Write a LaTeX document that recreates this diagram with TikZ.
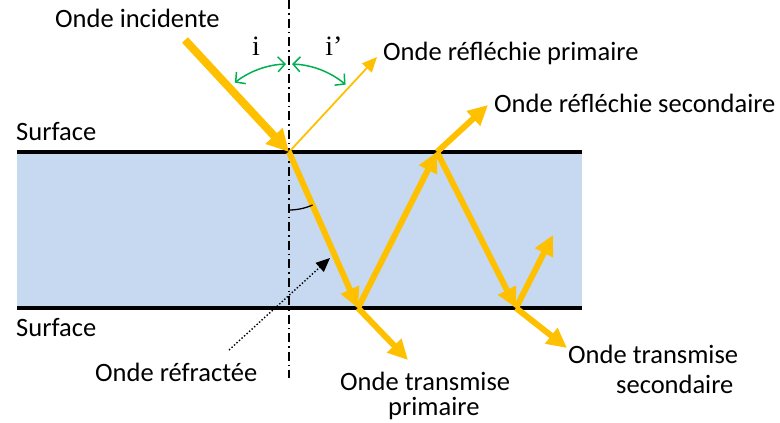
\documentclass[tikz,border=0pt]{standalone}
\usepackage{fontspec}
\setmainfont{Carlito}
\newfontfamily\seriffont{Liberation Serif}
\usetikzlibrary{arrows.meta}
\definecolor{wavec}{RGB}{255,192,0}
\definecolor{bandc}{RGB}{198,217,240}
\definecolor{angc}{RGB}{0,176,80}
\begin{document}
\begin{tikzpicture}[x=1pt,y=-1pt,
  lbl/.style={font=\fontsize{26.5}{30}\selectfont, inner sep=0pt, anchor=west},
  thickwave/.style={draw=wavec, line width=6pt, -{Triangle[length=20pt,width=19pt]}},
  thinwave/.style={draw=wavec, line width=1.8pt, -{Triangle[length=15pt,width=13pt]}},
  surf/.style={draw=black, line width=4pt},
  normal/.style={draw=black, line width=1.6pt, dash pattern=on 9pt off 4pt on 1.5pt off 4pt},
  angarc/.style={draw=angc, line width=1.5pt, {Straight Barb[length=7pt,width=15pt]}-{Straight Barb[length=7pt,width=15pt]}},
]
\useasboundingbox (0,0) rectangle (780,423);
% band
\fill[bandc] (17,152) rectangle (582,308);
\coordinate (L1) at (17,152); \coordinate (R1) at (582,152);
\coordinate (L2) at (17,308); \coordinate (R2) at (582,308);
\draw[surf] (L1) -- (R1);
\draw[surf] (L2) -- (R2);
% normal
\coordinate (N0) at (289,0); \coordinate (N1) at (289,378);
\draw[normal] (N0) -- (N1);
% key points
\coordinate (A0) at (185,40);
\coordinate (S1) at (289,152);
\coordinate (B1) at (358,308);
\coordinate (T2) at (437,152);
\coordinate (B2) at (516,308);
\coordinate (RP) at (377,57);
\coordinate (RS) at (488,105);
\coordinate (TP) at (408,360);
\coordinate (TS) at (567,348);
\coordinate (UP) at (553,235);
% waves
\draw[thickwave, line width=8pt, -{Triangle[length=22pt,width=22pt]}] (A0) -- (S1);
\draw[thinwave] (S1) -- (RP);
\draw[thickwave] (S1) -- (B1);
\draw[thickwave] (B1) -- (T2);
\draw[thickwave] (T2) -- (B2);
\draw[thickwave] (B1) -- (TP);
\draw[thickwave] (T2) -- (RS);
\draw[thickwave] (B2) -- (TS);
\draw[thickwave] (B2) -- (UP);
% angle arcs
\draw[angarc] ([shift={(-92:88)}]S1) arc[start angle=-92, end angle=-128, radius=88];
\draw[angarc] ([shift={(-88:88)}]S1) arc[start angle=-88, end angle=-50, radius=88];
\draw[black, line width=1.3pt] ([shift={(90:58)}]S1) arc[start angle=90, end angle=66, radius=58];
% dotted pointer
\coordinate (D0) at (229,350); \coordinate (D1) at (330,258);
\draw[black, dotted, line width=1.4pt, -{Triangle[length=14pt,width=12pt]}] (D0) -- (D1);
% labels
\node[font=\seriffont\fontsize{28}{32}\selectfont, inner sep=0pt] (li) at (256,46) {i};
\node[font=\seriffont\fontsize{28}{32}\selectfont, inner sep=0pt] (lip) at (334,46) {i’};
\node[lbl] (t1) at (55,18) {Onde incidente};
\node[lbl] (t2) at (383,53) {Onde réfléchie primaire};
\node[lbl] (t3) at (494,103) {Onde réfléchie secondaire};
\node[lbl] (t4) at (16,132) {Surface};
\node[lbl] (t5) at (16,328) {Surface};
\node[lbl] (t6) at (95,372) {Onde réfractée};
\node[lbl] (t7) at (340,381) {Onde transmise};
\node[lbl] (t8) at (388,409) {primaire};
\node[lbl] (t9) at (568,354) {Onde transmise};
\node[lbl] (t10) at (616,384) {secondaire};
\end{tikzpicture}
\end{document}
